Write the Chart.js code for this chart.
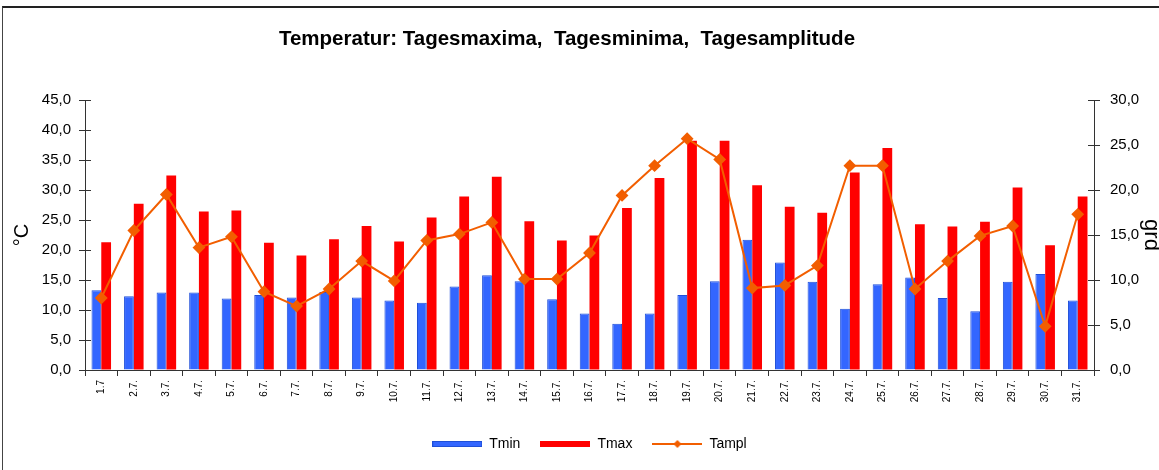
<!DOCTYPE html>
<html>
<head>
<meta charset="utf-8">
<script src="https://cdn.jsdelivr.net/npm/chart.js@4/dist/chart.umd.min.js"></script>
<style>
  html, body { margin: 0; padding: 0; background: #fff; overflow: hidden; width: 1159px; height: 470px; }
  #frame { position: absolute; left: 2px; top: 6px; width: 1200px; height: 500px; border-top: 2px solid #222; border-left: 1px solid #444; }
  #wrap { position: absolute; left: 4px; top: 9px; width: 1160px; height: 461px; }
</style>
</head>
<body>
<div id="frame"></div>
<div id="wrap"><canvas id="c" width="1160" height="461"></canvas></div>
<script>
const days = ['1.7','2.7.','3.7.','4.7.','5.7.','6.7.','7.7.','8.7.','9.7.','10.7.','11.7.','12.7.','13.7.','14.7.','15.7.','16.7.','17.7.','18.7.','19.7.','20.7.','21.7.','22.7.','23.7.','24.7.','25.7.','26.7.','27.7.','28.7.','29.7.','30.7.','31.7.'];
const tmin = [13.3,12.3,12.9,12.9,11.9,12.5,12.1,13.0,12.1,11.6,11.2,13.9,15.8,14.8,11.8,9.4,7.7,9.4,12.5,14.8,21.7,17.9,14.7,10.2,14.3,15.4,12.0,9.8,14.7,16.0,11.6];
const tmax = [21.3,27.7,32.4,26.4,26.6,21.2,19.1,21.8,24.0,21.4,25.4,28.9,32.2,24.8,21.6,22.4,27.0,32.0,38.2,38.2,30.8,27.2,26.2,32.9,37.0,24.3,23.9,24.7,30.4,20.8,28.9];
const tampl = [8.0,15.5,19.5,13.6,14.8,8.7,7.1,9.0,12.1,9.9,14.4,15.1,16.4,10.1,10.1,13.0,19.4,22.7,25.7,23.4,9.1,9.4,11.6,22.7,22.7,9.0,12.1,14.9,16.0,4.85,17.3];
const leftTickLabels = ['0,0','5,0','10,0','15,0','20,0','25,0','30,0','35,0','40,0','45,0'];
const rightTickLabels = ['0,0','5,0','10,0','15,0','20,0','25,0','30,0'];

const FONT = 'Liberation Sans, Arial, sans-serif';
const BLUE = '#3366FF', RED = '#FF0000', ORANGE = '#F25E00';

function icon(kind) {
  const cv = document.createElement('canvas');
  cv.width = 50; cv.height = 10;
  const g = cv.getContext('2d');
  if (kind === 'line') {
    g.strokeStyle = ORANGE; g.lineWidth = 2;
    g.beginPath(); g.moveTo(0, 5); g.lineTo(50, 5); g.stroke();
    g.fillStyle = ORANGE;
    g.beginPath(); g.moveTo(25, 1); g.lineTo(29, 5); g.lineTo(25, 9); g.lineTo(21, 5); g.closePath(); g.fill();
  } else {
    g.fillStyle = kind === 'blue' ? BLUE : RED;
    g.fillRect(0, 2, 50, 6);
    if (kind === 'blue') { g.strokeStyle = '#1f4fd8'; g.lineWidth = 1; g.strokeRect(0.5, 2.5, 49, 5); }
  }
  return cv;
}
const icons = [icon('blue'), icon('red'), icon('line')];

const innerTicks = {
  id: 'innerTicks',
  afterLayout(chart) {
    const t = chart.titleBlock;
    if (t) { t.right -= 34; }
  },
  afterDraw(chart) {
    const ctx = chart.ctx;
    ctx.save();
    ctx.strokeStyle = '#333'; ctx.lineWidth = 1;
    ['y', 'y2'].forEach(id => {
      const s = chart.scales[id];
      s.ticks.forEach((t, i) => {
        const py = Math.round(s.getPixelForTick(i)) + 0.5;
        ctx.beginPath();
        if (id === 'y') { ctx.moveTo(s.right, py); ctx.lineTo(s.right + 6, py); }
        else { ctx.moveTo(s.left - 6, py); ctx.lineTo(s.left, py); }
        ctx.stroke();
      });
    });
    ctx.restore();
  }
};

new Chart(document.getElementById('c'), {
  type: 'bar',
  data: {
    labels: days,
    datasets: [
      { label: 'Tmin', data: tmin, backgroundColor: BLUE, borderColor: '#1f4fd8', borderWidth: 1, yAxisID: 'y', order: 1, categoryPercentage: 0.6, barPercentage: 1.0 },
      { label: 'Tmax', data: tmax, backgroundColor: RED, borderWidth: 0, yAxisID: 'y', order: 2, categoryPercentage: 0.6, barPercentage: 1.0 },
      { label: 'Tampl', type: 'line', data: tampl, borderColor: ORANGE, backgroundColor: ORANGE, borderWidth: 2, pointStyle: 'rectRot', pointRadius: 5, pointBackgroundColor: ORANGE, pointBorderColor: ORANGE, yAxisID: 'y2', order: 0, tension: 0 }
    ]
  },
  options: {
    responsive: false,
    animation: false,
    events: [],
    layout: { padding: { bottom: 9 } },
    plugins: {
      tooltip: { enabled: false },
      title: {
        display: true,
        text: 'Temperatur: Tagesmaxima,  Tagesminima,  Tagesamplitude',
        color: '#000',
        font: { family: FONT, size: 20.5, weight: 'bold', lineHeight: 1.2 },
        padding: { top: 18, bottom: 48.4 }
      },
      legend: {
        position: 'bottom',
        fullSize: false,
        labels: {
          usePointStyle: true,
          pointStyleWidth: 50,
          padding: 20,
          color: '#000',
          font: { family: FONT, size: 14 },
          generateLabels: (chart) => chart.data.datasets.map((ds, i) => ({
            text: ds.label, pointStyle: icons[i], datasetIndex: i,
            fillStyle: 'transparent', strokeStyle: 'transparent', lineWidth: 0, hidden: false, fontColor: '#000'
          }))
        }
      }
    },
    scales: {
      x: {
        offset: true,
        grid: { display: true, drawOnChartArea: false, drawTicks: true, tickLength: 6, color: '#333', offset: true },
        border: { display: true, color: '#333', width: 1 },
        ticks: { minRotation: 90, maxRotation: 90, autoSkip: false, padding: 4, color: '#000', font: { family: FONT, size: 10 } },
        afterFit: (s) => { s.height = 47; }
      },
      y: {
        position: 'left',
        min: 0, max: 45,
        ticks: { stepSize: 5, padding: 8, color: '#000', font: { family: FONT, size: 15 }, callback: (v, i) => leftTickLabels[i] },
        grid: { display: true, drawOnChartArea: false, drawTicks: true, tickLength: 6, color: '#333' },
        border: { display: true, color: '#333', width: 1 },
        title: { display: true, text: '°C', color: '#000', font: { family: FONT, size: 20, lineHeight: 1.2 }, padding: { top: 6, bottom: 0 } },
        afterFit: (s) => { s.width = 81; }
      },
      y2: {
        position: 'right',
        min: 0, max: 30,
        ticks: { stepSize: 5, padding: 10, color: '#000', font: { family: FONT, size: 15 }, callback: (v, i) => rightTickLabels[i] },
        grid: { display: true, drawOnChartArea: false, drawTicks: true, tickLength: 6, color: '#333' },
        border: { display: true, color: '#333', width: 1 },
        title: { display: true, text: 'grd', color: '#000', font: { family: FONT, size: 22, lineHeight: 1.2 }, padding: { top: 0, bottom: 0 } },
        afterFit: (s) => { s.width = 70; }
      }
    }
  },
  plugins: [innerTicks]
});
</script>
</body>
</html>
